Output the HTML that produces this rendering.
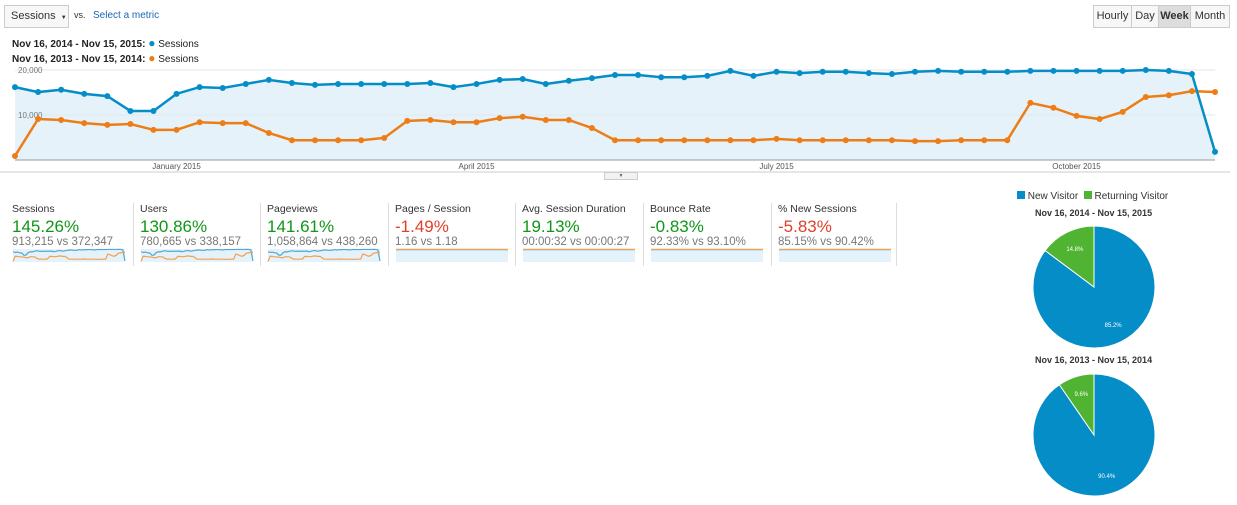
<!DOCTYPE html>
<html><head><meta charset="utf-8">
<style>
body{margin:0;width:1237px;height:505px;background:#fff;font-family:"Liberation Sans",Arial,sans-serif;position:relative;overflow:hidden}
.abs{position:absolute}
.btn{position:absolute;border:1px solid #ccc;background:#f7f7f7;font-size:11px;color:#333;box-sizing:border-box;text-align:center;line-height:21px;height:23px;top:5px}
.m{position:absolute;top:203px;width:128px;height:64px}
.m .l{font-size:10.5px;color:#333;position:absolute;left:0;top:0}
.m .v{font-size:17px;position:absolute;left:0;top:14px}
.m .s{font-size:11.5px;color:#777;position:absolute;left:0;top:33px;white-space:nowrap}
.sep{position:absolute;top:203px;width:1px;height:63px;background:#ddd}
</style></head><body>
<div class="abs" style="left:4px;top:5px;width:65px;height:23px;border:1px solid #ccc;background:#f7f7f7;box-sizing:border-box;font-size:11px;line-height:21px;padding-left:6px;color:#333;white-space:nowrap">Sessions <span style="font-size:6px;margin-left:2px">▼</span></div>
<div class="abs" style="left:74px;top:10px;font-size:9px;color:#333">vs.</div>
<div class="abs" style="left:93px;top:10px;font-size:10px;color:#1a66b3">Select a metric</div>
<div class="btn" style="left:1093px;width:39px">Hourly</div>
<div class="btn" style="left:1131px;width:28px">Day</div>
<div class="btn" style="left:1158px;width:33px;background:#ddd;font-weight:bold">Week</div>
<div class="btn" style="left:1190px;width:40px">Month</div>
<div class="abs" style="left:12px;top:36px;font-size:10px;color:#222;white-space:nowrap"><b>Nov 16, 2014 - Nov 15, 2015:</b> <span style="color:#058dc7;font-size:12px">●</span> Sessions</div>
<div class="abs" style="left:12px;top:51px;font-size:10px;color:#222;white-space:nowrap"><b>Nov 16, 2013 - Nov 15, 2014:</b> <span style="color:#ed7e17;font-size:12px">●</span> Sessions</div>
<svg class="abs" style="left:0;top:0" width="1237" height="505" id="svg"></svg>
<div class="abs" style="left:604px;top:172px;width:32px;height:6px;border:1px solid #ccc;background:#f2f2f2;font-size:5px;text-align:center;line-height:6px;color:#666">▼</div>

<div class="m" style="left:12px"><div class="l">Sessions</div><div class="v" style="color:#109618">145.26%</div><div class="s">913,215 vs 372,347</div></div>
<div class="m" style="left:140px"><div class="l">Users</div><div class="v" style="color:#109618">130.86%</div><div class="s">780,665 vs 338,157</div></div>
<div class="m" style="left:267px"><div class="l">Pageviews</div><div class="v" style="color:#109618">141.61%</div><div class="s">1,058,864 vs 438,260</div></div>
<div class="m" style="left:395px"><div class="l">Pages / Session</div><div class="v" style="color:#e0402a">-1.49%</div><div class="s">1.16 vs 1.18</div></div>
<div class="m" style="left:522px"><div class="l">Avg. Session Duration</div><div class="v" style="color:#109618">19.13%</div><div class="s">00:00:32 vs 00:00:27</div></div>
<div class="m" style="left:650px"><div class="l">Bounce Rate</div><div class="v" style="color:#109618">-0.83%</div><div class="s">92.33% vs 93.10%</div></div>
<div class="m" style="left:778px"><div class="l">% New Sessions</div><div class="v" style="color:#e0402a">-5.83%</div><div class="s">85.15% vs 90.42%</div></div>
<div class="sep" style="left:133px"></div><div class="sep" style="left:260px"></div><div class="sep" style="left:388px"></div><div class="sep" style="left:515px"></div><div class="sep" style="left:643px"></div><div class="sep" style="left:771px"></div><div class="sep" style="left:896px"></div>

<div class="abs" style="left:1017px;top:191px;font-size:10px;color:#333;white-space:nowrap"><span style="display:inline-block;width:8px;height:8px;background:#058dc7"></span> New Visitor &nbsp;<span style="display:inline-block;width:8px;height:8px;background:#50b432"></span> Returning Visitor</div>
<div class="abs" style="left:1035px;top:208px;font-size:9px;font-weight:bold;color:#333">Nov 16, 2014 - Nov 15, 2015</div>
<div class="abs" style="left:1035px;top:355px;font-size:9px;font-weight:bold;color:#333">Nov 16, 2013 - Nov 15, 2014</div>
<script>
const cur=[16.2,15.1,15.6,14.7,14.2,10.9,10.9,14.7,16.2,16.0,16.9,17.8,17.1,16.7,16.9,16.9,16.9,16.9,17.1,16.2,16.9,17.8,18.0,16.9,17.6,18.2,18.9,18.9,18.4,18.4,18.7,19.8,18.7,19.6,19.3,19.6,19.6,19.3,19.1,19.6,19.8,19.6,19.6,19.6,19.8,19.8,19.8,19.8,19.8,20.0,19.8,19.1,1.8];
const prev=[0.9,9.1,8.9,8.2,7.8,8.0,6.7,6.7,8.4,8.2,8.2,6.0,4.4,4.4,4.4,4.4,4.9,8.7,8.9,8.4,8.4,9.3,9.6,8.9,8.9,7.1,4.4,4.4,4.4,4.4,4.4,4.4,4.4,4.7,4.4,4.4,4.4,4.4,4.4,4.2,4.2,4.4,4.4,4.4,12.7,11.6,9.8,9.1,10.7,14.0,14.4,15.3,15.1];
const yTicks=[10000,20000];
const xLabels=[["January 2015",7],["April 2015",20],["July 2015",33],["October 2015",46]];
const pieCur=[85.2,14.8];
const piePrev=[90.4,9.6];
const flatCur=[1.0,1.0,1.0,1.0];
const flatPrev=[1.02,1.02,1.02,1.02];
const NS="http://www.w3.org/2000/svg",svg=document.getElementById('svg');
function mk(t,a,p){const e=document.createElementNS(NS,t);for(const k in a)e.setAttribute(k,a[k]);(p||svg).appendChild(e);return e}
const X=i=>15+i*(1200/(cur.length-1)), Y=v=>160-v*4.5;
let d='M'+X(0)+','+Y(0);cur.forEach((v,i)=>d+='L'+X(i)+','+Y(v));d+='L'+X(cur.length-1)+','+Y(0)+'Z';
const area=mk('path',{d:d,fill:'#e6f2f9'});
yTicks.forEach(t=>{const g=mk('line',{x1:15,x2:1215,y1:Y(t/1000),y2:Y(t/1000),stroke:'#dde8ee'});
const tx=mk('text',{x:18,y:Y(t/1000)+3,'font-size':8,fill:'#777'});tx.textContent=t.toLocaleString('en-US');});
mk('line',{x1:15,x2:1215,y1:160,y2:160,stroke:'#999'});
mk('line',{x1:0,x2:1230,y1:172,y2:172,stroke:'#ccc'});
xLabels.forEach(([l,i])=>{const t=mk('text',{x:X(i),y:169,'font-size':8,fill:'#555','text-anchor':'middle'});t.textContent=l;});
function series(arr,col,name){const p=mk('polyline',{points:arr.map((v,i)=>X(i)+','+Y(v)).join(' '),fill:'none',stroke:col,'stroke-width':2.5});
arr.forEach((v,i)=>{const c=mk('circle',{cx:X(i),cy:Y(v),r:3,fill:col});});}
series(prev,'#ed7e17','previous-sessions');series(cur,'#058dc7','current-sessions');
function spark(x0,a,b,lo,hi){const w=112,y0=249,h=13;const sx=i=>x0+i*w/(a.length-1),sy=v=>y0+h-(v-lo)/(hi-lo)*h;
mk('rect',{x:x0,y:y0,width:w,height:h,fill:'#e6f2f9'});
const p1=mk('polyline',{points:a.map((v,i)=>sx(i)+','+sy(v)).join(' '),fill:'none',stroke:'#4fa6d8','stroke-width':1.2});
const p2=mk('polyline',{points:b.map((v,i)=>sx(i)+','+sy(v)).join(' '),fill:'none',stroke:'#f0a050','stroke-width':1.2});}
[13,141,268].forEach(x=>spark(x,cur,prev,0,20.5));
[396,523,651,779].forEach(x=>spark(x,flatCur,flatPrev,0,1.05));
function pie(cx,cy,r,vals){let a0=-Math.PI/2;const cols=['#058dc7','#50b432'];vals.forEach((v,k)=>{const a1=a0+v/100*2*Math.PI;const lg=v>50?1:0;
const p=mk('path',{d:`M${cx},${cy}L${cx+r*Math.cos(a0)},${cy+r*Math.sin(a0)}A${r},${r} 0 ${lg} 1 ${cx+r*Math.cos(a1)},${cy+r*Math.sin(a1)}Z`,fill:cols[k],stroke:'#fff','stroke-width':1});

const am=(a0+a1)/2,t=mk('text',{x:cx+r*0.7*Math.cos(am),y:cy+r*0.7*Math.sin(am)+2,'font-size':6,fill:'#fff','text-anchor':'middle'});t.textContent=v+'%';a0=a1;});}
pie(1094,287,61,pieCur);pie(1094,435,61,piePrev);
</script>
</body></html>
